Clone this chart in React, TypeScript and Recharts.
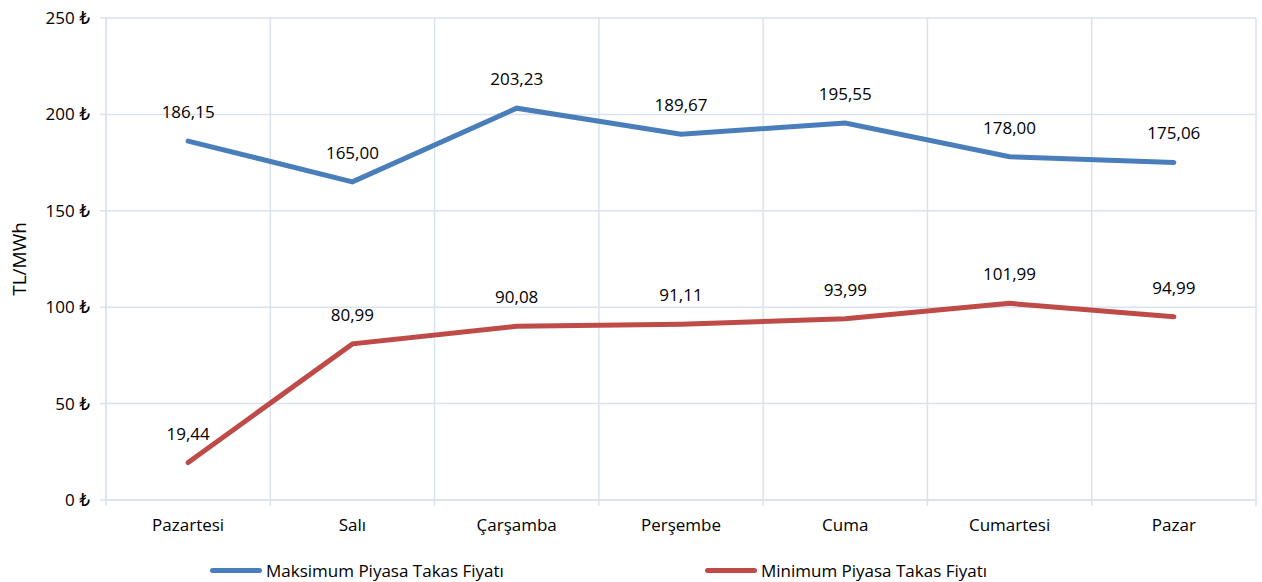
import React from 'react';
import {
  LineChart,
  Line,
  XAxis,
  YAxis,
  CartesianGrid,
  Legend,
  LabelList,
} from 'recharts';

const days = ['Pazartesi', 'Salı', 'Çarşamba', 'Perşembe', 'Cuma', 'Cumartesi', 'Pazar'];
const maxPrices = [186.15, 165.0, 203.23, 189.67, 195.55, 178.0, 175.06];
const minPrices = [19.44, 80.99, 90.08, 91.11, 93.99, 101.99, 94.99];
const yTicks = [0, 50, 100, 150, 200, 250];

const MAX_NAME = 'Maksimum Piyasa Takas Fiyatı';
const MIN_NAME = 'Minimum Piyasa Takas Fiyatı';

const BLUE = '#4A7EBB';
const RED = '#BE4B48';
const GRID = '#D9E2EF';
const FONT = '"Open Sans", "DejaVu Sans", sans-serif';

const data = days.map((day, i) => ({
  day,
  max: maxPrices[i],
  min: minPrices[i],
}));

const fmt = (v: number) => v.toFixed(2).replace('.', ',');

// vertical grid lines sit between the categories, like Excel does
const bandEdges = ({ offset }: any) =>
  Array.from({ length: days.length + 1 }, (_, i) => offset.left + (i * offset.width) / days.length);

// category label plus the small tick marks on the band edges
function DayTick(props: any) {
  const { x, y, payload, index, width } = props;
  const half = width / days.length / 2;
  return (
    <g>
      <line x1={x - half} x2={x - half} y1={y - 6} y2={y} stroke={GRID} strokeWidth={1.5} />
      {index === days.length - 1 && (
        <line x1={x + half} x2={x + half} y1={y - 6} y2={y} stroke={GRID} strokeWidth={1.5} />
      )}
      <text x={x} y={y + 13} dy="0.71em" textAnchor="middle" fill="#000" fontSize={17} fontFamily={FONT}>
        {payload.value}
      </text>
    </g>
  );
}

function ChartLegend() {
  const items = [
    { name: MAX_NAME, color: BLUE },
    { name: MIN_NAME, color: RED },
  ];
  return (
    <div style={{ display: 'flex', paddingLeft: 210, paddingTop: 17, gap: 201 }}>
      {items.map((it) => (
        <div key={it.name} style={{ display: 'flex', alignItems: 'center', fontSize: 17, color: '#000' }}>
          <div style={{ width: 52, height: 5, borderRadius: 3, background: it.color, marginRight: 4 }} />
          <span>{it.name}</span>
        </div>
      ))}
    </div>
  );
}

export default function App() {
  return (
    <div style={{ width: 1262, height: 582, fontFamily: FONT }}>
      <style>{'body{margin:0}'}</style>
      <LineChart width={1262} height={582} data={data} margin={{ top: 18, right: 6, bottom: 0, left: 0 }}>
        <CartesianGrid stroke={GRID} strokeWidth={1.5} verticalCoordinatesGenerator={bandEdges} />
        <XAxis
          dataKey="day"
          scale="band"
          tickLine={false}
          axisLine={{ stroke: GRID, strokeWidth: 1.5 }}
          tickSize={6}
          tickMargin={0}
          height={42}
          tick={<DayTick />}
          interval={0}
        />
        <YAxis
          domain={[0, 250]}
          ticks={yTicks}
          width={106}
          tickFormatter={(v: number) => `${v} ₺`}
          tickSize={6}
          tickMargin={10}
          tickLine={{ stroke: GRID, strokeWidth: 1.5 }}
          axisLine={{ stroke: GRID, strokeWidth: 1.5 }}
          tick={{ fill: '#000', fontSize: 17, fontFamily: FONT }}
          label={{
            value: 'TL/MWh',
            angle: -90,
            position: 'insideLeft',
            offset: 19,
            style: { textAnchor: 'middle', fontSize: 19, fill: '#000', fontFamily: FONT },
          }}
        />
        <Legend verticalAlign="bottom" height={40} content={() => <ChartLegend />} />
        <Line
          type="linear"
          dataKey="max"
          name={MAX_NAME}
          stroke={BLUE}
          strokeWidth={5}
          strokeLinecap="round"
          dot={false}
          isAnimationActive={false}
        >
          <LabelList dataKey="max" position="top" offset={23} formatter={fmt} style={{ fill: '#000', fontSize: 17, fontFamily: FONT }} />
        </Line>
        <Line
          type="linear"
          dataKey="min"
          name={MIN_NAME}
          stroke={RED}
          strokeWidth={5}
          strokeLinecap="round"
          dot={false}
          isAnimationActive={false}
        >
          <LabelList dataKey="min" position="top" offset={23} formatter={fmt} style={{ fill: '#000', fontSize: 17, fontFamily: FONT }} />
        </Line>
      </LineChart>
    </div>
  );
}
